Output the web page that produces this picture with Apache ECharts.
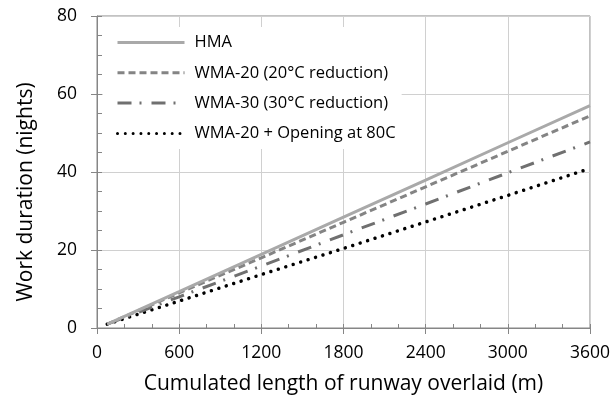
<!DOCTYPE html>
<html>
<head>
<meta charset="utf-8">
<script src="https://cdn.jsdelivr.net/npm/echarts@6/dist/echarts.min.js"></script>
<style>
  html, body { margin: 0; padding: 0; background: #fff; }
  #chart { width: 613px; height: 400px; }
</style>
</head>
<body>
<div id="chart"></div>
<script>
// Cumulated runway length (m) at which work duration is reported
const lengths = [75, 600, 1200, 1800, 2400, 3000, 3600];

// Work duration (nights) per mix / scenario
const hma        = [1.0, 9.3, 18.9, 28.4, 37.9, 47.5, 57.0];
const wma20      = [1.0, 9.0, 18.0, 27.1, 36.2, 45.3, 54.4];
const wma30      = [1.0, 8.0, 15.9, 23.9, 31.8, 39.8, 47.7];
const wma20Open  = [1.0, 6.9, 13.7, 20.4, 27.2, 34.0, 40.9];

const seriesNames = [
  'HMA',
  'WMA-20 (20°C reduction)',
  'WMA-30 (30°C reduction)',
  'WMA-20 + Opening at 80C'
];

const xTicks = [0, 600, 1200, 1800, 2400, 3000, 3600];
const yTicks = [0, 20, 40, 60, 80];

const FONT = '"Open Sans", sans-serif';
const AXIS_COLOR = '#868686';
const GRID_COLOR = '#d0d0d0';

function pairs(ys) {
  return lengths.map((x, i) => [x, ys[i]]);
}

const chart = echarts.init(document.getElementById('chart'), null, { renderer: 'canvas' });

const gridBox = { left: 97, right: 23, top: 16, bottom: 71 };

chart.setOption({
  animation: false,
  backgroundColor: '#fff',
  grid: Object.assign({ show: true, borderColor: AXIS_COLOR, borderWidth: 1, backgroundColor: 'transparent' }, gridBox),
  legend: {
    orient: 'vertical',
    left: 103,
    top: 27,
    padding: [7, 6, 7, 13],
    backgroundColor: '#fff',
    itemWidth: 67,
    itemHeight: 20,
    itemGap: 13.3,
    itemStyle: { opacity: 0 },
    lineStyle: { width: 3 },
    textStyle: { fontFamily: FONT, fontSize: 16.5, color: '#000', padding: [0, 0, 0, 5] },
    data: seriesNames
  },
  xAxis: [
    {
      type: 'value',
      min: xTicks[0],
      max: xTicks[xTicks.length - 1],
      interval: 600,
      name: 'Cumulated length of runway overlaid (m)',
      nameLocation: 'middle',
      nameGap: 46,
      nameTextStyle: { fontFamily: FONT, fontSize: 21, color: '#000' },
      axisLine: { show: true, lineStyle: { color: AXIS_COLOR, width: 1 } },
      axisTick: { show: true, inside: false, length: 6, lineStyle: { color: AXIS_COLOR } },
      axisLabel: { fontFamily: FONT, fontSize: 17.5, color: '#000', margin: 16, formatter: v => String(v) },
      splitLine: { show: true, lineStyle: { color: GRID_COLOR, width: 1 } }
    },
    {
      // minor ticks pointing into the plot
      type: 'value',
      min: 0,
      max: 3600,
      interval: 200,
      position: 'bottom',
      axisLine: { show: false },
      axisTick: { show: true, inside: true, length: 4, lineStyle: { color: AXIS_COLOR } },
      axisLabel: { show: false },
      splitLine: { show: false }
    }
  ],
  yAxis: [
    {
      type: 'value',
      min: yTicks[0],
      max: yTicks[yTicks.length - 1],
      interval: 20,
      name: 'Work duration (nights)',
      nameLocation: 'middle',
      nameGap: 60,
      nameRotate: 90,
      nameTextStyle: { fontFamily: FONT, fontSize: 21, color: '#000', padding: [0, 40, 0, 0] },
      axisLine: { show: true, lineStyle: { color: AXIS_COLOR, width: 1 } },
      axisTick: { show: true, inside: false, length: 6, lineStyle: { color: AXIS_COLOR } },
      axisLabel: { fontFamily: FONT, fontSize: 17.5, color: '#000', margin: 20 },
      splitLine: { show: true, lineStyle: { color: GRID_COLOR, width: 1 } }
    },
    {
      type: 'value',
      min: 0,
      max: 80,
      interval: 5,
      position: 'left',
      axisLine: { show: false },
      axisTick: { show: true, inside: true, length: 5, lineStyle: { color: AXIS_COLOR } },
      axisLabel: { show: false },
      splitLine: { show: false }
    }
  ],
  series: [
    {
      name: seriesNames[0],
      type: 'line',
      data: pairs(hma),
      symbol: 'none',
      lineStyle: { color: '#a9a9a9', width: 3 },
      itemStyle: { color: '#a9a9a9' },
      z: 4
    },
    {
      name: seriesNames[1],
      type: 'line',
      data: pairs(wma20),
      symbol: 'none',
      lineStyle: { color: '#848484', width: 3, type: [7, 4], cap: 'butt' },
      itemStyle: { color: '#848484' },
      z: 3
    },
    {
      name: seriesNames[2],
      type: 'line',
      data: pairs(wma30),
      symbol: 'none',
      lineStyle: { color: '#707070', width: 3, type: [14, 8, 2, 10], cap: 'butt' },
      itemStyle: { color: '#707070' },
      z: 2
    },
    {
      name: seriesNames[3],
      type: 'line',
      data: pairs(wma20Open),
      symbol: 'none',
      lineStyle: { color: '#000', width: 3.5, type: [0.01, 7.8], cap: 'round' },
      itemStyle: { color: '#000' },
      z: 1
    }
  ]
});
</script>
</body>
</html>
